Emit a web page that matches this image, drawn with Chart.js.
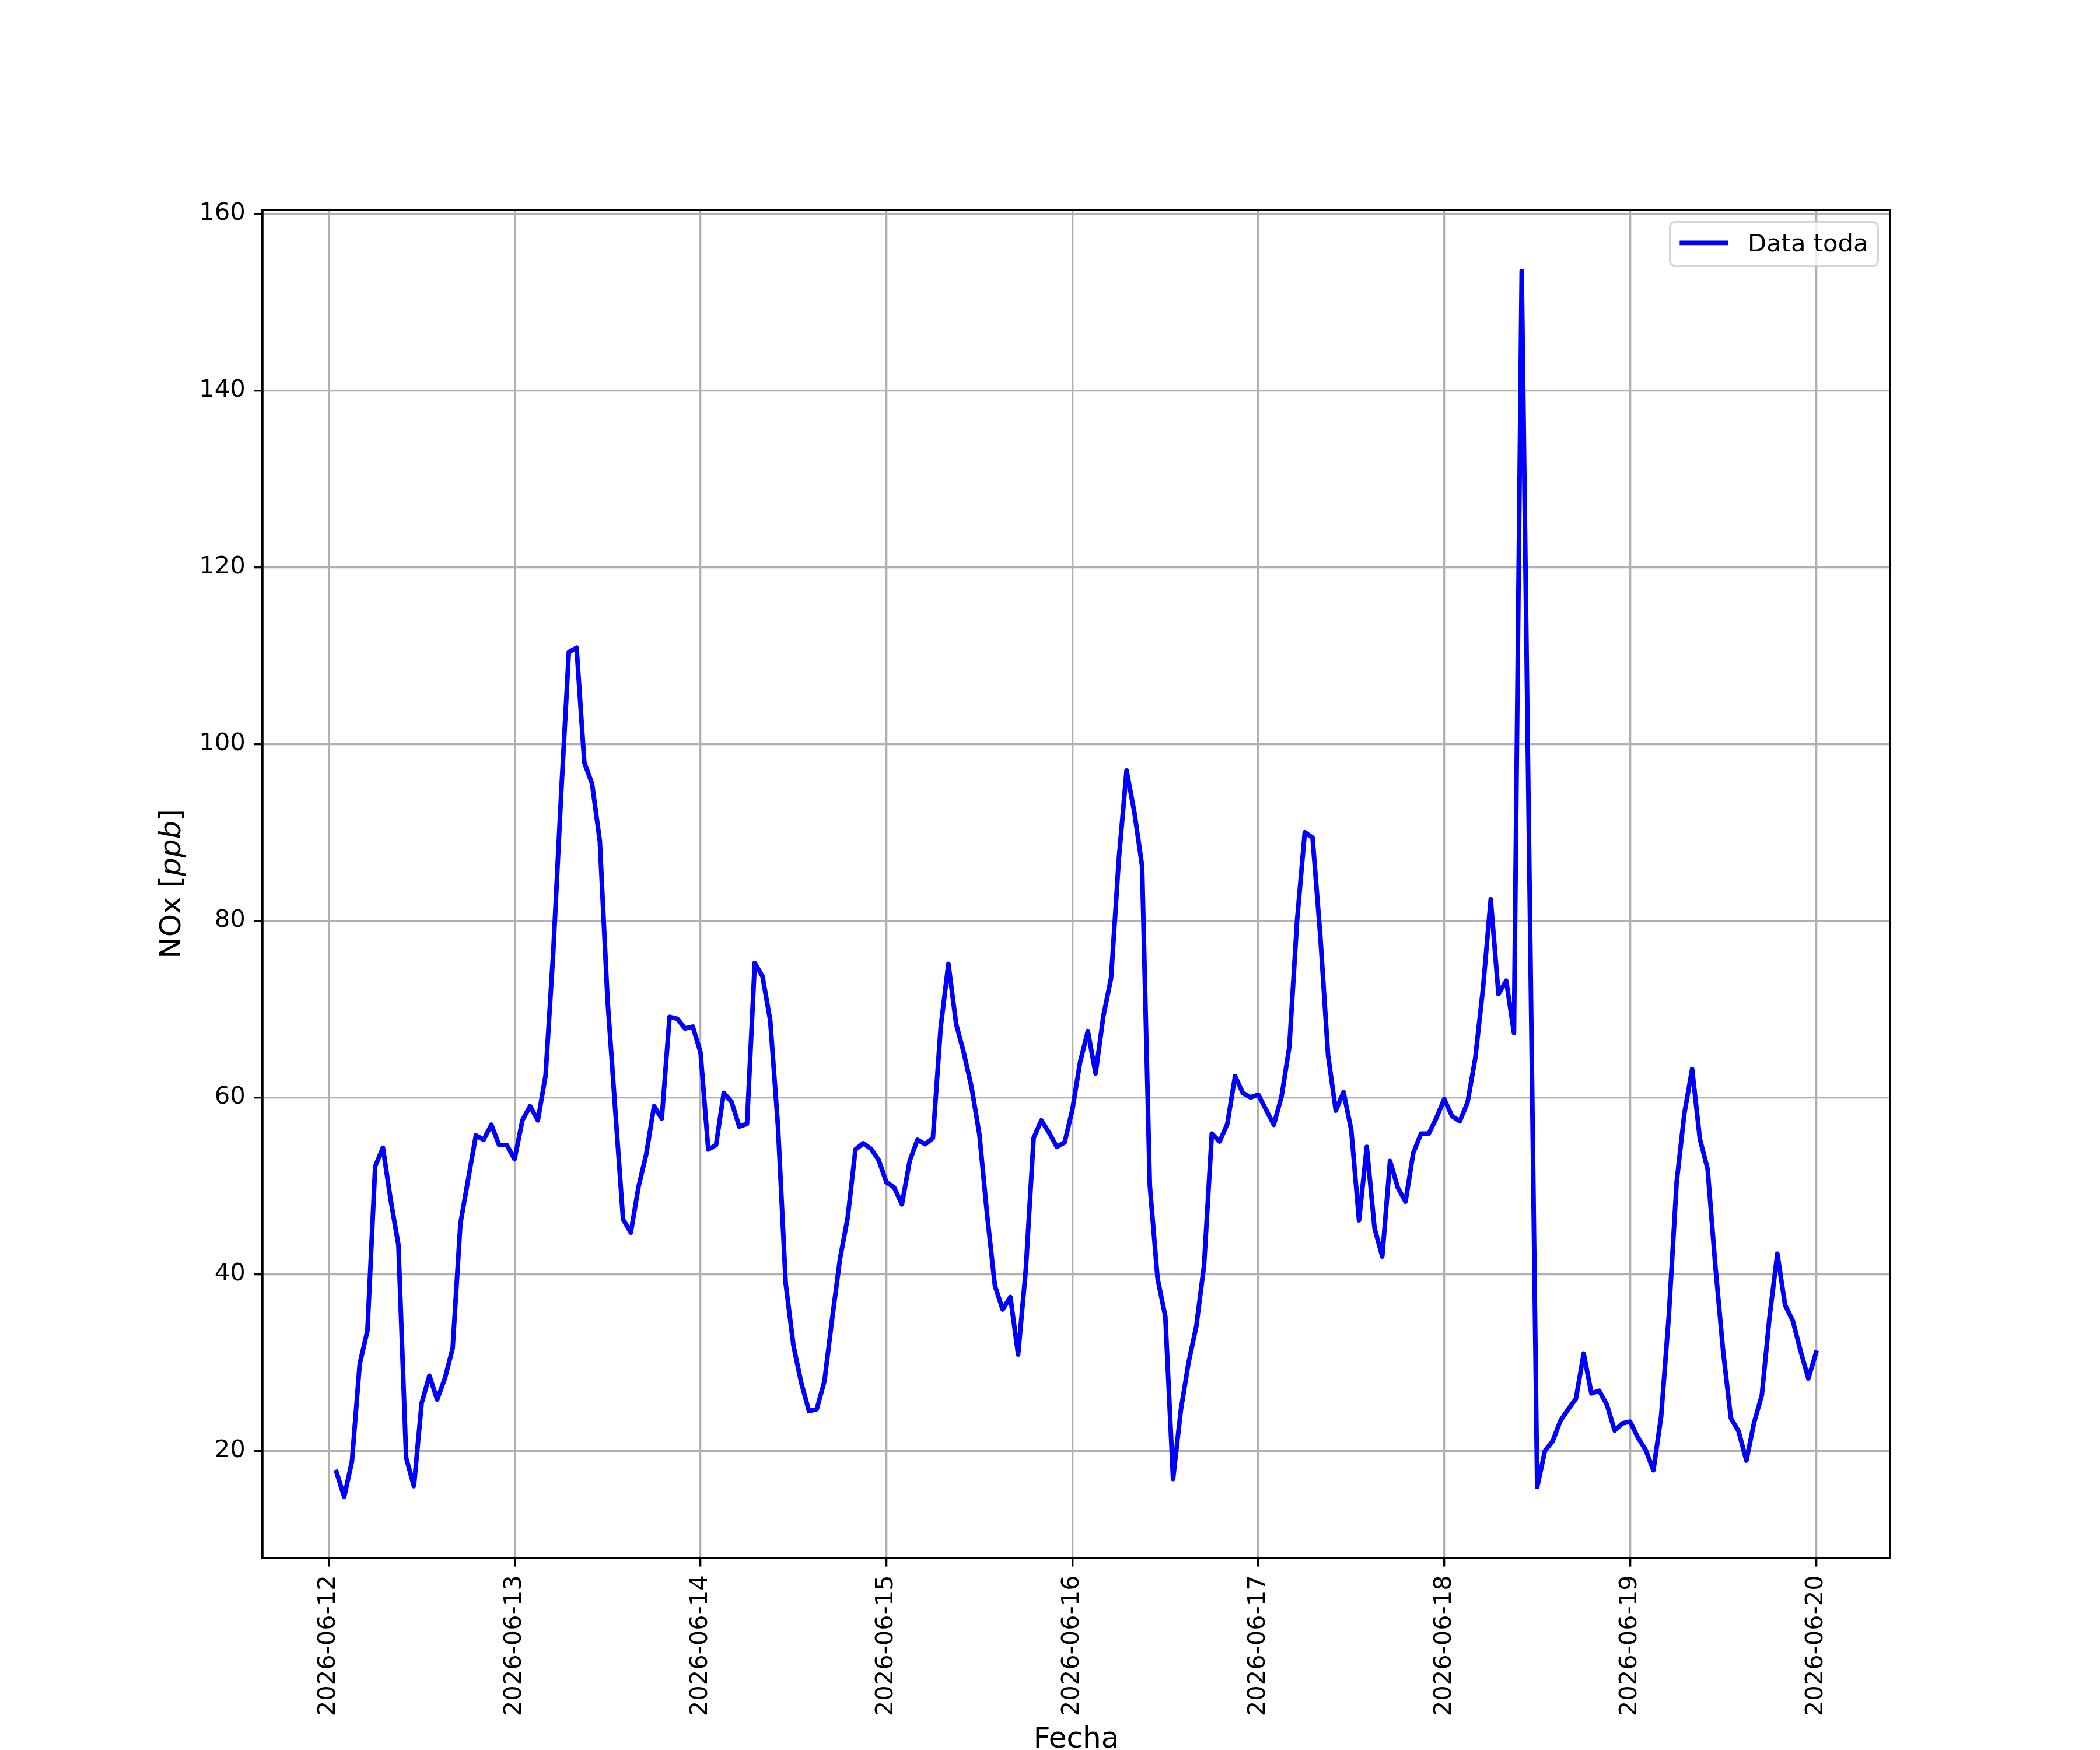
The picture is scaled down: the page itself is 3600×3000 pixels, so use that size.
<!DOCTYPE html>
<html>
<head>
<meta charset="utf-8">
<title>NOx</title>
<script src="https://cdn.jsdelivr.net/npm/chart.js@4.4.1/dist/chart.umd.min.js"></script>
<style>
	html, body { margin: 0; padding: 0; background: #fff; }
	canvas { display: block; }
</style>
</head>
<body>
<canvas id="nox-chart" width="3600" height="3000"></canvas>
<script>
// hourly NOx values (ppb)
// first value is 2026-06-12 01:00, then one value per hour
const dayLabels = [
	"2026-06-12", "2026-06-13", "2026-06-14", "2026-06-15", "2026-06-16",
	"2026-06-17", "2026-06-18", "2026-06-19", "2026-06-20",
];
const firstHour = 1;

const nox_jun12 = [17.6, 14.8, 18.8, 29.8, 33.6, 52.2, 54.3, 48.4, 43.3, 19.2, 16.0, 25.4,
	28.5, 25.8, 28.2, 31.6, 45.7, 50.7, 55.7, 55.2, 56.9, 54.6, 54.6];
const nox_jun13 = [53.0, 57.4, 59.0, 57.4, 62.5, 76.6, 94.2, 110.4, 110.9, 97.9, 95.5, 89.0,
	71.0, 58.5, 46.2, 44.7, 49.9, 53.6, 59.0, 57.6, 69.1, 68.9, 67.8, 68.0];
const nox_jun14 = [65.1, 54.1, 54.6, 60.5, 59.5, 56.7, 57.0, 75.2, 73.7, 68.7, 56.7, 38.9,
	31.9, 27.7, 24.5, 24.7, 27.9, 35.0, 41.7, 46.4, 54.1, 54.8, 54.2, 52.9];
const nox_jun15 = [50.4, 49.8, 47.9, 52.8, 55.2, 54.7, 55.4, 67.9, 75.1, 68.3, 65.0, 61.1,
	55.8, 46.7, 38.7, 36.0, 37.4, 30.9, 40.6, 55.4, 57.4, 56.0, 54.4, 54.9];
const nox_jun16 = [58.6, 64.0, 67.5, 62.7, 69.2, 73.5, 87.0, 97.0, 92.3, 86.2, 50.0, 39.5,
	35.2, 16.8, 24.6, 30.0, 34.1, 41.0, 55.9, 55.0, 57.0, 62.4, 60.5, 60.0];
const nox_jun17 = [60.3, 58.6, 56.9, 60.1, 65.7, 80.0, 90.0, 89.4, 78.3, 64.8, 58.5, 60.6,
	56.3, 46.1, 54.4, 45.2, 42.0, 52.8, 49.8, 48.2, 53.7, 55.9, 55.9, 57.7];
const nox_jun18 = [59.8, 57.9, 57.3, 59.4, 64.4, 72.3, 82.4, 71.7, 73.2, 67.3, 153.5, 85.0,
	15.9, 20.0, 21.1, 23.4, 24.7, 25.9, 31.0, 26.5, 26.8, 25.2, 22.3, 23.1];
const nox_jun19 = [23.3, 21.5, 20.1, 17.8, 23.9, 35.4, 50.4, 58.2, 63.2, 55.3, 51.9, 40.9,
	31.3, 23.7, 22.2, 18.9, 23.2, 26.3, 35.2, 42.3, 36.5, 34.7, 31.3, 28.2];
const nox_jun20 = [31.1];

const yTicks = [20, 40, 60, 80, 100, 120, 140, 160];

// matplotlib look: 12x10 in figure at 300 dpi
const PT = 300 / 72;
const FONT = "'DejaVu Sans'";

const noxValues = [].concat(nox_jun12, nox_jun13, nox_jun14, nox_jun15, nox_jun16,
	nox_jun17, nox_jun18, nox_jun19, nox_jun20);
const noxPoints = noxValues.map((v, i) => ({ x: firstHour + i, y: v }));
const dayTicks = dayLabels.map((d, i) => i * 24);

// 5% margins like matplotlib autoscale
const xFirst = firstHour, xLast = firstHour + noxValues.length - 1;
const xPad = 0.05 * (xLast - xFirst);
const yLo = Math.min(...noxValues), yHi = Math.max(...noxValues);
const yPad = 0.05 * (yHi - yLo);

// black box around the axes, drawn over the line
const axesFrame = {
	id: "axesFrame",
	afterDatasetsDraw(chart) {
		const { ctx, chartArea: a } = chart;
		ctx.save();
		ctx.strokeStyle = "#000";
		ctx.lineWidth = 0.8 * PT;
		ctx.strokeRect(a.left, a.top, a.right - a.left, a.bottom - a.top);
		ctx.restore();
	},
};

// legend in the upper right corner, matplotlib style box
const legendBox = {
	id: "legendBox",
	afterDraw(chart) {
		const { ctx, chartArea: a } = chart;
		const ds = chart.data.datasets[0];
		const fs = 10 * PT;
		ctx.save();
		ctx.font = fs + "px " + FONT;
		const textW = ctx.measureText(ds.label).width;
		const pad = 0.4 * fs, handle = 2 * fs, gap = 0.8 * fs;
		const w = pad + handle + gap + textW + pad;
		const h = fs + 2 * pad;
		const left = a.right - 0.5 * fs - w;
		const top = a.top + 0.5 * fs;

		ctx.beginPath();
		ctx.roundRect(left, top, w, h, 0.2 * fs);
		ctx.fillStyle = "rgba(255,255,255,0.8)";
		ctx.fill();
		ctx.strokeStyle = "rgba(204,204,204,0.8)";
		ctx.lineWidth = 0.85 * PT;
		ctx.stroke();

		ctx.beginPath();
		ctx.moveTo(left + pad, top + h / 2 - 2);
		ctx.lineTo(left + pad + handle, top + h / 2 - 2);
		ctx.strokeStyle = ds.borderColor;
		ctx.lineWidth = ds.borderWidth;
		ctx.lineCap = "butt";
		ctx.stroke();

		ctx.fillStyle = "#000";
		ctx.textBaseline = "alphabetic";
		ctx.fillText(ds.label, left + pad + handle + gap, top + pad + 0.8 * fs);
		ctx.restore();
	},
};

// y label with the italic unit (mathtext $ppb$ in the original)
const yLabel = {
	id: "yLabel",
	afterDraw(chart) {
		const { ctx, chartArea: a } = chart;
		const fs = 12 * PT;
		const parts = [
			["NOx [", ""],
			["ppb", "italic "],
			["]", ""],
		];
		ctx.save();
		let total = 0;
		const widths = parts.map(([t, st]) => {
			ctx.font = st + fs + "px " + FONT;
			const wd = ctx.measureText(t).width;
			total += wd;
			return wd;
		});
		ctx.translate(a.left - 154, (a.top + a.bottom) / 2);
		ctx.rotate(-Math.PI / 2);
		ctx.fillStyle = "#000";
		ctx.textBaseline = "middle";
		ctx.textAlign = "left";
		let x = -total / 2;
		parts.forEach(([t, st], i) => {
			ctx.font = st + fs + "px " + FONT;
			ctx.fillText(t, x, 0);
			x += widths[i];
		});
		ctx.restore();
	},
};

const gridOpts = {
	color: "#b0b0b0",
	lineWidth: 0.8 * PT,
	tickLength: 3.5 * PT,
	tickColor: "#000",
	tickWidth: 0.8 * PT,
};

let nox_chart = document.getElementById("nox-chart").getContext("2d");

new Chart(nox_chart, {
	type: "line",
	data: {
		datasets: [
			{
				label: "Data toda",
				data: noxPoints,
				borderColor: "#0000ff",
				backgroundColor: "#0000ff",
				borderWidth: 1.9 * PT,
				borderJoinStyle: "round",
				borderCapStyle: "square",
				pointRadius: 0,
				tension: 0,
				fill: false,
			},
		],
	},
	options: {
		responsive: false,
		animation: false,
		devicePixelRatio: 1,
		layout: {
			padding: { top: 360, right: 360, left: 0, bottom: 0 },
		},
		plugins: {
			legend: { display: false },
			tooltip: { enabled: false },
		},
		scales: {
			x: {
				type: "linear",
				min: xFirst - xPad,
				max: xLast + xPad,
				afterBuildTicks: (scale) => {
					scale.ticks = dayTicks.map((v) => ({ value: v }));
				},
				afterFit: (scale) => {
					scale.height = 329;
				},
				ticks: {
					autoSkip: false,
					minRotation: 90,
					maxRotation: 90,
					padding: 3.5 * PT,
					color: "#000",
					font: { family: FONT, size: 10 * PT },
					callback: (v) => dayLabels[Math.round(v / 24)],
				},
				grid: gridOpts,
				border: { color: "#000", width: 0.8 * PT },
				title: {
					display: true,
					text: "Fecha",
					color: "#000",
					font: { family: FONT, size: 12 * PT, lineHeight: 1 },
					padding: { top: 0, bottom: -8 },
				},
			},
			y: {
				type: "linear",
				min: yLo - yPad,
				max: yHi + yPad,
				afterBuildTicks: (scale) => {
					scale.ticks = yTicks.map((v) => ({ value: v }));
				},
				afterFit: (scale) => {
					scale.width = 450;
				},
				ticks: {
					padding: 3.5 * PT,
					color: "#000",
					font: { family: FONT, size: 10 * PT },
				},
				grid: gridOpts,
				border: { color: "#000", width: 0.8 * PT },
			},
		},
	},
	plugins: [axesFrame, legendBox, yLabel],
});
</script>
</body>
</html>
